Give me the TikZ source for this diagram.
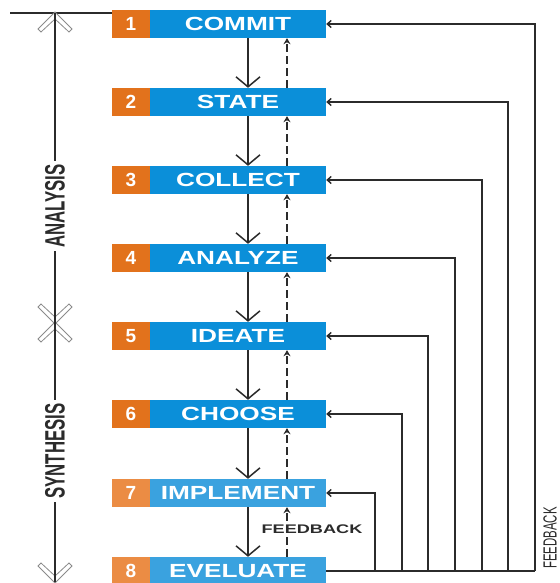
\documentclass[tikz,border=0pt]{standalone}
\usepackage{fontspec}
\usepackage{graphicx}
\setmainfont{Liberation Sans}
\usetikzlibrary{arrows.meta}
\definecolor{boxblue}{HTML}{0B8FD9}
\definecolor{boxorange}{HTML}{E2721C}
\definecolor{boxblueL}{HTML}{3AA2DF}
\definecolor{boxorangeL}{HTML}{EB8C44}
\definecolor{ink}{HTML}{2B2B2B}
\definecolor{chevgray}{HTML}{8A8A8A}
\tikzset{
  numbox/.style={fill=boxorange, text=white, minimum width=38pt, minimum height=28pt, inner sep=0pt,
    font=\bfseries\fontsize{19}{19}\selectfont},
  lblbox/.style={fill=boxblue, text=white, minimum width=176pt, minimum height=28pt, inner sep=0pt,
    font=\bfseries\fontsize{19}{19}\selectfont},
  downarrow/.style={draw=ink, line width=1.5pt, -{Straight Barb[length=10pt,width=24pt]}},
  uparrow/.style={draw=ink, line width=2pt, dash pattern=on 8pt off 4pt, -{Stealth[length=6pt,width=7pt]}},
  fbline/.style={draw=ink, line width=1.4pt},
  fbarrow/.style={draw=ink, line width=1.4pt, -{Straight Barb[length=4pt,width=7pt]}},
  axisline/.style={draw=ink, line width=1.4pt},
  chev/.style={draw=chevgray, fill=white, line width=0.8pt, line join=miter},
  sidelabel/.style={text=ink, fill=white, inner sep=3pt, rotate=90, font=\bfseries\fontsize{28}{28}\selectfont},
  chevup/.pic={\path[chev] (0,-1) -- (17,16) -- (14,19) -- (0,6) -- (-14,19) -- (-17,16) -- cycle;},
  chevdown/.pic={\path[chev] (0,1) -- (17,-16) -- (14,-19) -- (0,-6) -- (-14,-19) -- (-17,-16) -- cycle;}
}
\begin{document}
\begin{tikzpicture}[x=1pt,y=-1pt]
\useasboundingbox (0,0) rectangle (559,583);

% boxes
\node[numbox] (n1) at (131,24) {1};
\node[lblbox] (b1) at (238,24) {\scalebox{1.38}[1]{COMMIT}};
\node[numbox] (n2) at (131,102) {2};
\node[lblbox] (b2) at (238,102) {\scalebox{1.38}[1]{STATE}};
\node[numbox] (n3) at (131,180) {3};
\node[lblbox] (b3) at (238,180) {\scalebox{1.38}[1]{COLLECT}};
\node[numbox] (n4) at (131,258) {4};
\node[lblbox] (b4) at (238,258) {\scalebox{1.38}[1]{ANALYZE}};
\node[numbox] (n5) at (131,336) {5};
\node[lblbox] (b5) at (238,336) {\scalebox{1.38}[1]{IDEATE}};
\node[numbox] (n6) at (131,414) {6};
\node[lblbox] (b6) at (238,414) {\scalebox{1.38}[1]{CHOOSE}};
\node[numbox, fill=boxorangeL] (n7) at (131,493) {7};
\node[lblbox, fill=boxblueL] (b7) at (238,493) {\scalebox{1.38}[1]{IMPLEMENT}};
\node[numbox, fill=boxorangeL] (n8) at (131,571) {8};
\node[lblbox, fill=boxblueL] (b8) at (238,571) {\scalebox{1.38}[1]{EVELUATE}};

% forward arrows
\foreach \a/\b in {1/2,2/3,3/4,4/5,5/6,6/7,7/8}{
  \draw[downarrow] ([xshift=10pt]b\a.south) -- ([xshift=10pt]b\b.north);
  \draw[uparrow] ([xshift=49pt]b\b.north) -- ([xshift=49pt]b\a.south);
}

% inner feedback label
\node[text=ink, font=\bfseries\fontsize{12.5}{12.5}\selectfont] (fbin) at (312,529) {\scalebox{1.45}[1]{FEEDBACK}};

% right feedback loops
\coordinate (c1) at (535,571);
\coordinate (c2) at (508,571);
\coordinate (c3) at (482,571);
\coordinate (c4) at (455,571);
\coordinate (c5) at (428,571);
\coordinate (c6) at (402,571);
\coordinate (c7) at (375,571);
\draw[fbline] (b8.east) -- (c1);
\foreach \k in {1,...,7}{
  \draw[fbarrow] (c\k) |- (b\k.east);
}
\node[text=ink, rotate=90, inner sep=0pt, font=\fontsize{19}{19}\selectfont] (fbout) at (550,538) {\scalebox{0.6}[1]{FEEDBACK}};

% left axis
\coordinate (lstart) at (10,13);
\coordinate (top) at (55,13);
\coordinate (mid) at (55,323);
\coordinate (bot) at (55,582);
\draw[axisline] (lstart) -- (lstart -| n1.west);
\pic at (top) {chevup};
\pic at (mid) {chevdown};
\pic at (mid) {chevup};
\pic at (bot) {chevdown};
\draw[axisline] (top) -- (mid) -- (bot);
\node[sidelabel] (an) at (55,206) {\scalebox{0.6}[1]{ANALYSIS}};
\node[sidelabel] (sy) at (55,451) {\scalebox{0.6}[1]{SYNTHESIS}};
\end{tikzpicture}
\end{document}
